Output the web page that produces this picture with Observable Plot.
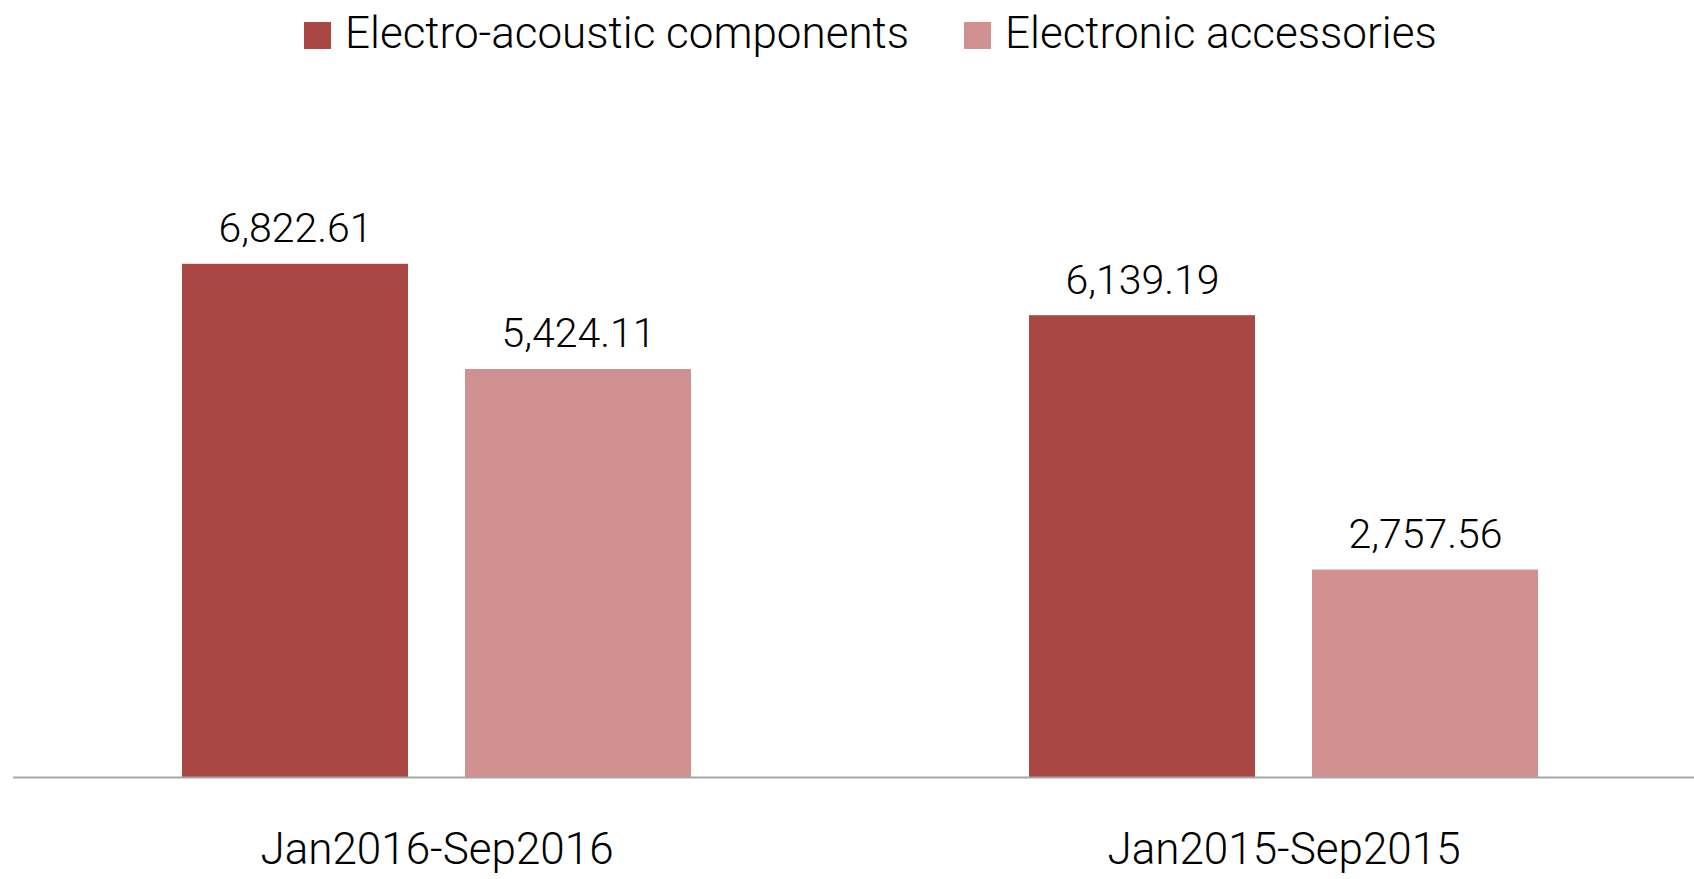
<!DOCTYPE html>
<html>
<head>
<meta charset="utf-8">
<script src="https://cdn.jsdelivr.net/npm/d3@7"></script>
<script src="https://cdn.jsdelivr.net/npm/@observablehq/plot@0.6"></script>
<style>
  html, body { margin: 0; padding: 0; background: #fff; overflow: hidden; }
  body { width: 1694px; height: 879px; font-family: Roboto, "Open Sans", sans-serif; font-weight: 300; }
  #legend { position: relative; height: 64px; width: 1694px; }
  #legend .sw { position: absolute; top: 22px; width: 27px; height: 27px; }
  #legend .lb { position: absolute; top: 11px; font-size: 44px; line-height: 1; color: #000; white-space: nowrap; font-weight: 300; }
  #chart svg { display: block; }
</style>
</head>
<body>
<div id="legend"></div>
<div id="chart"></div>
<script>
const periods = ["Jan2016-Sep2016", "Jan2015-Sep2015"];
const series = ["Electro-acoustic components", "Electronic accessories"];
const electroAcoustic = [6822.61, 6139.19];
const electronicAccessories = [5424.11, 2757.56];
const colors = ["#A94744", "#D29191"];

const rows = [];
periods.forEach((p, i) => {
  rows.push({period: p, series: series[0], value: electroAcoustic[i]});
  rows.push({period: p, series: series[1], value: electronicAccessories[i]});
});

// Legend (HTML, above the SVG)
const legend = document.getElementById("legend");
const legendPos = [{sw: 304, lb: 345}, {sw: 964, lb: 1005}];
series.forEach((s, i) => {
  const sw = document.createElement("div");
  sw.className = "sw";
  sw.style.left = legendPos[i].sw + "px";
  sw.style.background = colors[i];
  legend.appendChild(sw);
  const lb = document.createElement("div");
  lb.className = "lb";
  lb.style.left = legendPos[i].lb + "px";
  lb.textContent = s;
  legend.appendChild(lb);
});

const fmt = d3.format(",.2f");
const font = 'Roboto, "Open Sans", sans-serif';

const chart = Plot.plot({
  width: 1694,
  height: 815,
  marginLeft: 13,
  marginRight: -13,
  marginTop: 36,
  marginBottom: 102,
  style: {fontFamily: font, fontSize: "44px", fontWeight: 300, color: "#000", background: "transparent", overflow: "visible"},
  fx: {domain: periods, axis: "bottom", paddingInner: 0, paddingOuter: 0, tickSize: 0, tickPadding: 55, label: null},
  x: {domain: series, axis: null, paddingInner: 0.2024, paddingOuter: 0.597},
  y: {domain: [0, 9000], axis: null},
  color: {domain: series, range: colors},
  marks: [
    Plot.barY(rows, {fx: "period", x: "series", y: "value", fill: "series"}),
    Plot.ruleY([0], {stroke: "#A6A6A6", strokeWidth: 2}),
    Plot.text(rows, {fx: "period", x: "series", y: "value", text: d => fmt(d.value), lineAnchor: "bottom", dy: -22, fontSize: 41, fontWeight: 300, fill: "#000"})
  ]
});
document.getElementById("chart").appendChild(chart);
</script>
</body>
</html>
